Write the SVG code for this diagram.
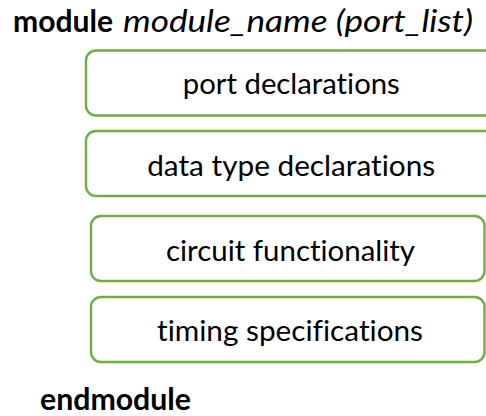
<svg xmlns="http://www.w3.org/2000/svg" width="486" height="416" viewBox="0 0 486 416">
  <style>
    text { font-family: Lato, "Liberation Sans", sans-serif; fill: #000000; font-variant-ligatures: none; }
    .box { fill: #ffffff; stroke: #70ad47; stroke-width: 2.4; }
    .label { font-size: 29px; text-anchor: middle; }
    .kw { font-size: 30px; font-weight: bold; }
    .it { font-size: 30px; font-style: italic; }
  </style>
  <rect width="486" height="416" fill="#ffffff"/>

  <!-- module header -->
  <g id="header">
    <text class="kw" x="13" y="32" textLength="100" lengthAdjust="spacingAndGlyphs">module</text>
    <text class="it" x="123" y="32" textLength="350" lengthAdjust="spacingAndGlyphs">module_name (port_list)</text>
  </g>

  <g id="connectors"/>

  <!-- body sections -->
  <g id="port-declarations">
    <rect class="box" x="86" y="50.5" width="410" height="65" rx="10"/>
    <text class="label" x="291.3" y="94" textLength="217" lengthAdjust="spacingAndGlyphs">port declarations</text>
  </g>
  <g id="data-type-declarations">
    <rect class="box" x="86" y="131" width="410" height="65" rx="10"/>
    <text class="label" x="291.2" y="176" textLength="288" lengthAdjust="spacingAndGlyphs">data type declarations</text>
  </g>
  <g id="circuit-functionality">
    <rect class="box" x="91" y="216" width="393.5" height="65" rx="10"/>
    <text class="label" x="290.5" y="261" textLength="249" lengthAdjust="spacingAndGlyphs">circuit functionality</text>
  </g>
  <g id="timing-specifications">
    <rect class="box" x="91" y="297" width="393.5" height="65" rx="10"/>
    <text class="label" x="290" y="341" textLength="266" lengthAdjust="spacingAndGlyphs">timing specifications</text>
  </g>

  <!-- module footer -->
  <g id="footer">
    <text class="kw" x="40" y="410" textLength="151" lengthAdjust="spacingAndGlyphs">endmodule</text>
  </g>
</svg>
